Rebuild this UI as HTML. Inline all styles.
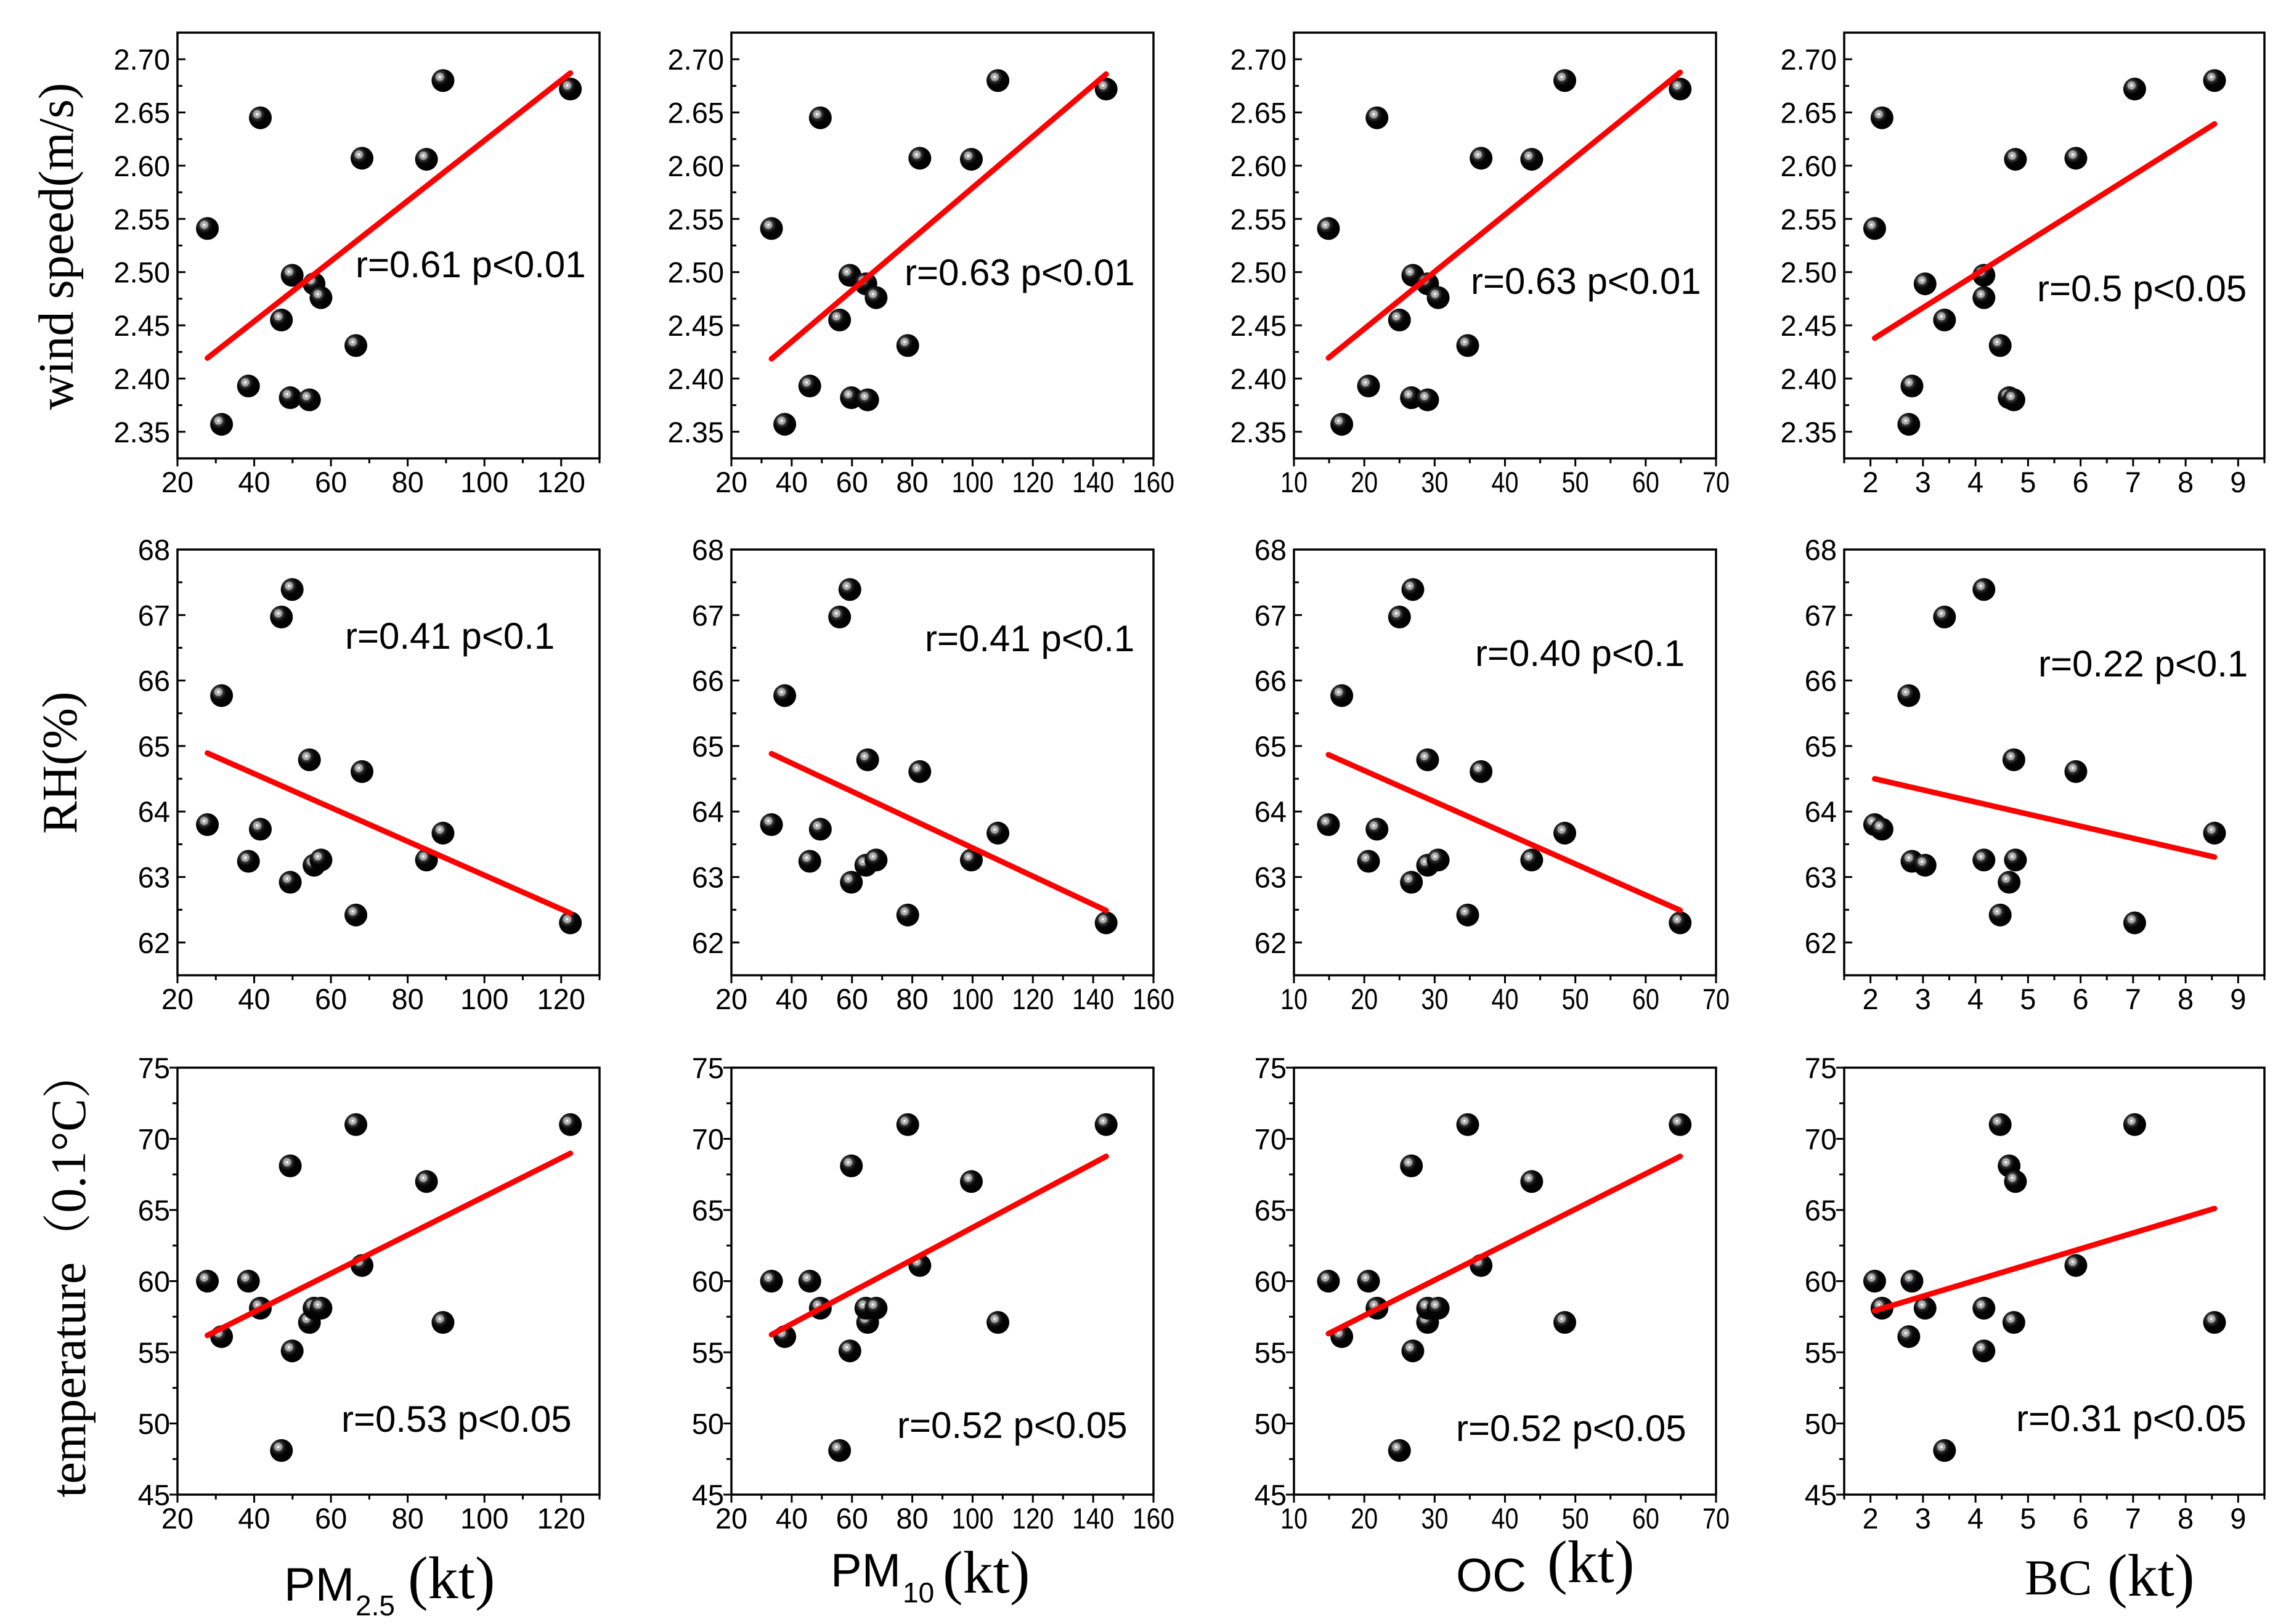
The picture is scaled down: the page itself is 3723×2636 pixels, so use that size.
<!DOCTYPE html>
<html><head><meta charset="utf-8"><style>
html,body{margin:0;padding:0;background:#fff}
svg{display:block}
</style></head><body>
<svg id="fig" width="3723" height="2636" viewBox="0 0 3723 2636" xmlns="http://www.w3.org/2000/svg">
<defs>
<radialGradient id="ball" cx="0.36" cy="0.34" r="0.7">
<stop offset="0" stop-color="#ffffff"/>
<stop offset="0.07" stop-color="#f0f0f0"/>
<stop offset="0.12" stop-color="#999"/>
<stop offset="0.2" stop-color="#bbb"/>
<stop offset="0.3" stop-color="#333"/>
<stop offset="0.5" stop-color="#050505"/>
<stop offset="1" stop-color="#000"/>
</radialGradient>
</defs>
<g id="panels"></g>
<text transform="translate(118,400) rotate(-90)" text-anchor="middle" font-family="Liberation Serif, serif" font-size="80">wind speed(m/s)</text>
<text transform="translate(124,1238) rotate(-90)" text-anchor="middle" font-family="Liberation Serif, serif" font-size="80">RH(%)</text>
<text transform="translate(138,2067) rotate(-90)" text-anchor="middle" font-family="Liberation Serif, 'Noto Serif CJK SC', serif" font-size="80">temperature（0.1°C）</text>
<g>
<text x="461" y="2598" font-family="Liberation Sans, sans-serif" font-size="76">PM</text>
<text x="577" y="2622" font-family="Liberation Sans, sans-serif" font-size="46">2.5</text>
<text x="662" y="2594" font-family="Liberation Serif, serif" font-size="98">(kt)</text>
</g>
<g>
<text x="1348" y="2575" font-family="Liberation Sans, sans-serif" font-size="76">PM</text>
<text x="1465" y="2601" font-family="Liberation Sans, sans-serif" font-size="46">10</text>
<text x="1530" y="2585" font-family="Liberation Serif, serif" font-size="98">(kt)</text>
</g>
<g>
<text x="2363" y="2583" font-family="Liberation Sans, sans-serif" font-size="76">OC</text>
<text x="2511" y="2568" font-family="Liberation Serif, serif" font-size="98">(kt)</text>
</g>
<g>
<text x="3286" y="2588" font-family="Liberation Serif, serif" font-size="82">BC</text>
<text x="3420" y="2590" font-family="Liberation Serif, serif" font-size="98">(kt)</text>
</g>
</svg>
<script>
// ---- data ----
const pm25 = [27.8,31.5,38.5,41.6,47.1,49.9,49.4,54.4,55.6,57.4,66.5,68.1,84.9,89.2,122.4];
const pm10 = [33.3,37.7,46.0,49.5,55.9,59.3,59.8,65.2,64.6,68.0,78.5,82.5,99.6,108.4,144.3];
const oc   = [14.9,16.8,20.6,21.8,25.0,26.9,26.7,29.0,29.0,30.5,34.7,36.6,43.8,48.5,64.9];
const bc   = [2.08,2.73,2.79,2.22,3.41,4.16,4.64,4.73,3.04,4.16,4.47,5.91,4.76,8.55,7.03];
const windSpeed = [2.541,2.357,2.393,2.645,2.455,2.497,2.382,2.380,2.489,2.476,2.431,2.607,2.606,2.680,2.672];
const rh = [63.80,65.77,63.24,63.73,66.97,67.39,62.92,64.79,63.18,63.26,62.42,64.61,63.26,63.67,62.30];
const temperature = [60.0,56.1,60.0,58.1,48.1,55.1,68.1,57.1,58.1,58.1,71.0,61.1,67.0,57.1,71.0];
const annotations = [
 ["r=0.61 p<0.01","r=0.63 p<0.01","r=0.63 p<0.01","r=0.5 p<0.05"],
 ["r=0.41 p<0.1","r=0.41 p<0.1","r=0.40 p<0.1","r=0.22 p<0.1"],
 ["r=0.53 p<0.05","r=0.52 p<0.05","r=0.52 p<0.05","r=0.31 p<0.05"]
];
const xTicksPM25 = [20,40,60,80,100,120];
const xTicksPM10 = [20,40,60,80,100,120,140,160];
const xTicksOC = [10,20,30,40,50,60,70];
const xTicksBC = [2,3,4,5,6,7,8,9];
const yTicksWind = ["2.35","2.40","2.45","2.50","2.55","2.60","2.65","2.70"];
const yTicksRH = ["62","63","64","65","66","67","68"];
const yTicksTemp = ["45","50","55","60","65","70","75"];

// ---- layout ----
const NS="http://www.w3.org/2000/svg";
const root=document.getElementById('panels');
const colX=[288,1187,2100,2993], colW=[685,685,685,682];
const rowY=[53,892,1733], rowH=[691,691,693];
const cols=[
 {name:'pm25',data:pm25,min:20,max:130,ticks:xTicksPM25,minor:10},
 {name:'pm10',data:pm10,min:20,max:160,ticks:xTicksPM10,minor:10},
 {name:'oc',data:oc,min:10,max:70,ticks:xTicksOC,minor:5},
 {name:'bc',data:bc,min:1.5,max:9.5,ticks:xTicksBC,minor:0.5}
];
const rows=[
 {name:'wind-speed',data:windSpeed,min:2.325,max:2.725,ticks:yTicksWind,minor:0.025,inward:true},
 {name:'rh',data:rh,min:61.5,max:68,ticks:yTicksRH,minor:0.5,inward:true},
 {name:'temperature',data:temperature,min:45,max:75,ticks:yTicksTemp,minor:2.5,inward:false}
];
const annPos=[
 [[577,450],[1468,463],[2387,477],[3306,489]],
 [[560,1053],[1501,1057],[2394,1081],[3308,1098]],
 [[554,2324],[1456,2334],[2363,2339],[3272,2323]]
];
function el(t,a,p){const e=document.createElementNS(NS,t);for(const k in a)e.setAttribute(k,a[k]);(p||root).appendChild(e);return e;}

rows.forEach((r,ri)=>{cols.forEach((c,ci)=>{
 const L=colX[ci],T=rowY[ri],W=colW[ci],H=rowH[ri];
 const g=el('g',{});
 
 
 const sx=v=>L+(v-c.min)/(c.max-c.min)*W;
 const sy=v=>T+H-(v-r.min)/(r.max-r.min)*H;
 const frame=el('rect',{x:L,y:T,width:W,height:H,fill:'none',stroke:'#000','stroke-width':3.5},g);
 
 
 const xt=el('g',{},g);
 
 
 for(let v=c.min;v<=c.max+1e-9;v+=c.minor){
   const isMaj=c.ticks.some(t=>Math.abs(t-v)<1e-6);
   const px=sx(v);
   el('line',{x1:px,x2:px,y1:T+H,y2:T+H+(isMaj?13:8),stroke:'#000','stroke-width':3},xt);
 }
 c.ticks.forEach(t=>{
   const lab=el('text',{x:sx(t),y:T+H+55,'text-anchor':'middle','font-family':'Liberation Sans, sans-serif','font-size':47},xt);
   if(c.name==='pm10' && String(t).length===3){lab.setAttribute('textLength',68);lab.setAttribute('lengthAdjust','spacingAndGlyphs');}
   if(c.name==='oc'){lab.setAttribute('textLength',44);lab.setAttribute('lengthAdjust','spacingAndGlyphs');}
   
   
   lab.textContent=t;
 });
 const yt=el('g',{},g);
 
 
 const dir=r.inward?1:-1;
 for(let v=r.min;v<=r.max+1e-9;v+=r.minor){
   const isMaj=r.ticks.some(t=>Math.abs(parseFloat(t)-v)<1e-6);
   const py=sy(v);
   el('line',{x1:L,x2:L+dir*(isMaj?13:8),y1:py,y2:py,stroke:'#000','stroke-width':3},yt);
 }
 r.ticks.forEach(t=>{
   const lab=el('text',{x:L-12,y:sy(parseFloat(t))+17,'text-anchor':'end','font-family':'Liberation Sans, sans-serif','font-size':47},yt);
   
   
   lab.textContent=t;
 });
 const xs=c.data, ys=r.data, n=xs.length;
 const mx=xs.reduce((a,b)=>a+b,0)/n, my=ys.reduce((a,b)=>a+b,0)/n;
 let sxy=0,sxx=0;for(let i=0;i<n;i++){sxy+=(xs[i]-mx)*(ys[i]-my);sxx+=(xs[i]-mx)**2;}
 const b=sxy/sxx,a=my-b*mx;
 const x0=Math.min(...xs),x1=Math.max(...xs);
 const pts=el('g',{},g);
 
 
 for(let i=0;i<n;i++){
   const p=el('ellipse',{cx:sx(xs[i]),cy:sy(ys[i]),rx:18.5,ry:18.5,fill:'url(#ball)'},pts);
   
   
 }
 const ln=el('line',{x1:sx(x0),y1:sy(a+b*x0),x2:sx(x1),y2:sy(a+b*x1),stroke:'#ff0000','stroke-width':9,'stroke-linecap':'round'},g);
 
 
 const an=el('text',{x:annPos[ri][ci][0],y:annPos[ri][ci][1],'font-family':'Liberation Sans, sans-serif','font-size':60},g);
 
 
 an.textContent=annotations[ri][ci];
});});
</script>
</body></html>
